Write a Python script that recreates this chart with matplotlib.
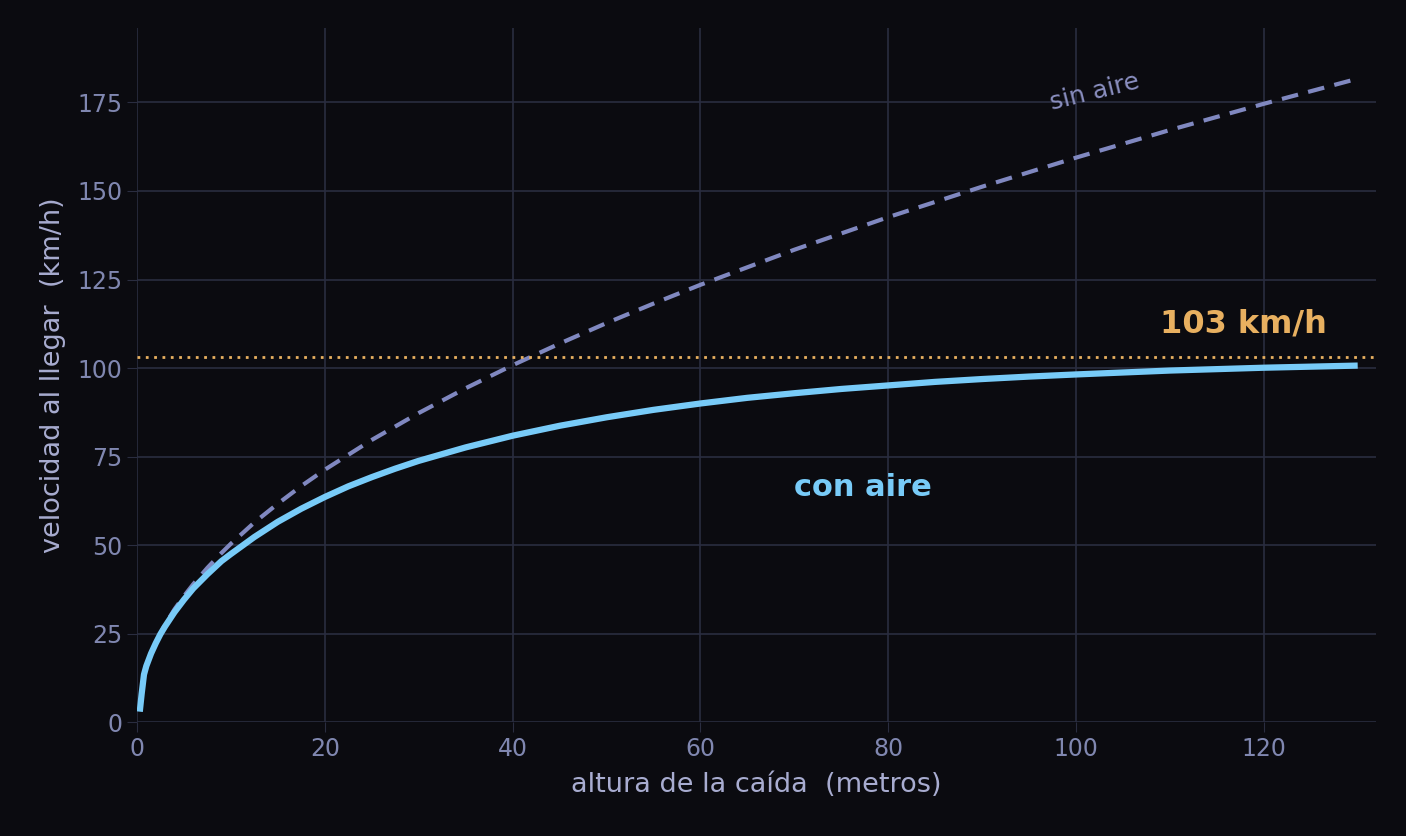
import matplotlib
matplotlib.use("Agg")
import matplotlib.pyplot as plt

# heights (m) and speeds (km/h)
h_con = [0.3, 0.5, 0.75, 1, 1.5, 2, 2.5, 3, 4, 5, 6, 7.5, 9, 10, 12.5, 15, 17.5, 20, 22.5, 25, 27.5, 30, 35, 40, 45, 50, 55, 60, 65, 70, 75, 80, 85, 90, 95, 100, 110, 120, 130]
v_con = [3, 8, 13.5, 15.9, 19.4, 22.3, 24.9, 27.1, 31.1, 34.6, 37.8, 41.8, 45.5, 47.5, 52.3, 56.6, 60.3, 63.6, 66.6, 69.2, 71.6, 73.8, 77.6, 80.9, 83.7, 86.1, 88.2, 90.0, 91.6, 92.9, 94.1, 95.1, 96.1, 96.9, 97.6, 98.2, 99.3, 100.1, 100.7]
h_sin = [1, 2, 3, 4, 5, 6, 7.5, 9, 10, 12.5, 15, 17.5, 20, 25, 30, 35, 40, 45, 50, 55, 60, 70, 80, 90, 100, 110, 120, 130]
v_sin = [15.9, 22.5, 27.6, 31.9, 35.6, 39.0, 43.6, 47.8, 50.4, 56.4, 61.7, 66.7, 71.3, 79.7, 87.3, 94.3, 100.8, 106.9, 112.7, 118.2, 123.5, 133.4, 142.6, 151.2, 159.4, 167.2, 174.6, 181.7]
v_terminal = 103

bg = "#0b0b10"
fig = plt.figure(figsize=(14.06, 8.36), dpi=100, facecolor=bg)
ax = fig.add_axes([0.0974, 0.136, 0.8816, 0.8305], facecolor=bg)
ax.set_xlim(0, 132)
ax.set_ylim(0, 196)
ax.set_xticks([0, 20, 40, 60, 80, 100, 120])
ax.set_yticks([0, 25, 50, 75, 100, 125, 150, 175])
ax.grid(True, color="#2a2d40", lw=1.2)
ax.set_axisbelow(True)
for s in ax.spines.values():
    s.set_visible(False)
ax.tick_params(colors="#8087b0", labelsize=17, length=7, color="#2a2d40")

ax.plot(h_sin, v_sin, color="#8088c0", lw=3, ls=(0, (4, 2.5)))
ax.plot(h_con, v_con, color="#78cbf8", lw=4.5, solid_capstyle="butt")
ax.axhline(v_terminal, color="#e8b060", lw=2, ls=(0, (1, 2)))

ax.text(97, 173, "sin aire", color="#8a8fc0", fontsize=18, rotation=14)
ax.text(109, 110, "103 km/h", color="#e8b060", fontsize=23, fontweight="bold")
ax.text(70, 64, "con aire", color="#78cbf8", fontsize=22, fontweight="bold")

ax.set_xlabel("altura de la caída  (metros)", color="#a8acd0", fontsize=19.5, labelpad=8)
ax.set_ylabel("velocidad al llegar  (km/h)", color="#a8acd0", fontsize=19.5, labelpad=8)

fig.savefig("out.png", dpi=100, facecolor=bg)
